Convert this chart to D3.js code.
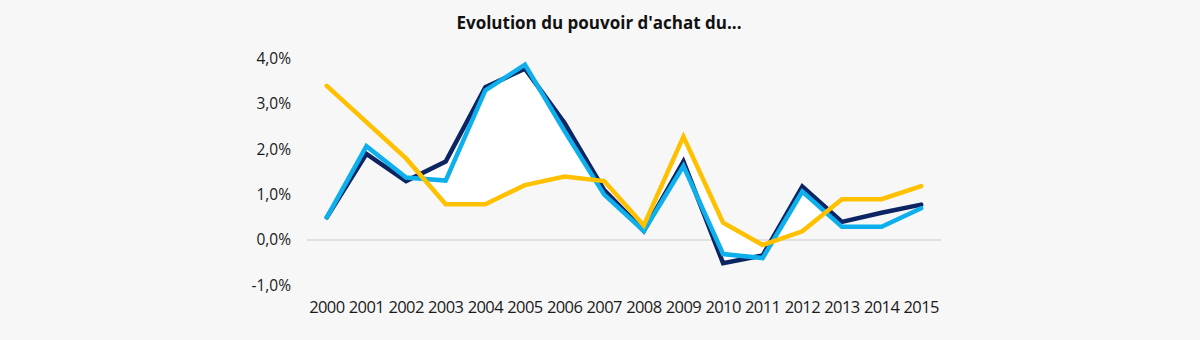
<!DOCTYPE html>
<html>
<head>
<meta charset="utf-8">
<script src="https://cdn.jsdelivr.net/npm/d3@7"></script>
<style>
  html, body { margin: 0; padding: 0; background: #f7f7f7; }
  svg { display: block; }
</style>
</head>
<body>
<svg id="chart" width="1200" height="340"></svg>
<script>
// Years on the horizontal axis
const years = ["2000","2001","2002","2003","2004","2005","2006","2007",
               "2008","2009","2010","2011","2012","2013","2014","2015"];

// Annual change in purchasing power (%)
const seriesNavy   = [0.5, 1.9, 1.3, 1.73, 3.37, 3.78, 2.58, 1.1, 0.2, 1.73, -0.51, -0.34, 1.18, 0.4, 0.6, 0.78];
const seriesBlue   = [0.5, 2.07, 1.38, 1.31, 3.3, 3.87, 2.4, 1.0, 0.2, 1.63, -0.31, -0.4, 1.07, 0.29, 0.29, 0.7];
const seriesYellow = [3.4, 2.6, 1.8, 0.79, 0.79, 1.21, 1.4, 1.3, 0.32, 2.28, 0.38, -0.11, 0.19, 0.9, 0.9, 1.19];

// Value-axis ticks
const yTicks = [-1, 0, 1, 2, 3, 4];

const title = "Evolution du pouvoir d'achat du...";

const svg = d3.select("#chart");
const W = 1200, H = 340;

svg.append("rect").attr("width", W).attr("height", H).attr("fill", "#f7f7f7");

const x = d3.scaleBand().domain(years).range([307, 941]);
const cx = d => x(d) + x.bandwidth() / 2;
const y = d3.scaleLinear().domain([-1, 4]).range([285.3, 58.7]);

// French number format with a plain hyphen for negatives
const frLocale = d3.formatLocale({ decimal: ",", thousands: "\u00a0", grouping: [3], currency: ["", " €"], minus: "-" });
const fmt1 = frLocale.format(".1f");
const fmt = v => fmt1(v) + "%";

// Title
svg.append("text")
  .attr("x", 599).attr("y", 29)
  .attr("text-anchor", "middle")
  .attr("font-family", "'Open Sans', sans-serif")
  .attr("font-weight", "bold")
  .attr("font-size", 17)
  .attr("fill", "#111")
  .text(title);

// Zero baseline
svg.append("line")
  .attr("x1", 307).attr("x2", 941)
  .attr("y1", y(0)).attr("y2", y(0))
  .attr("stroke", "#d9d9d9").attr("stroke-width", 1.5);

// Value axis (labels only)
const yAxis = d3.axisLeft(y).tickValues(yTicks).tickFormat(fmt).tickSize(0).tickPadding(0);
const gy = svg.append("g").attr("transform", "translate(291,0)").call(yAxis);
gy.select(".domain").remove();
gy.selectAll("text")
  .attr("font-family", "'Open Sans', sans-serif")
  .attr("font-size", 15.5)
  .attr("fill", "#1a1a1a");

// Year axis (labels only)
const xAxis = d3.axisBottom(x).tickSize(0).tickPadding(0);
const gx = svg.append("g").attr("transform", "translate(0,301)").call(xAxis);
gx.select(".domain").remove();
gx.selectAll("text")
  .attr("font-family", "'Open Sans', sans-serif")
  .attr("font-size", 16.5)
  .attr("letter-spacing", -0.6)
  .attr("fill", "#1a1a1a");

// Rows of data for the shaded gap
const rows = years.map((yr, i) => ({ yr, n: seriesNavy[i], b: seriesBlue[i], o: seriesYellow[i] }));

// Where the yellow line crosses the light-blue line (first and last crossing)
function crossings(a, b) {
  const out = [];
  for (let i = 0; i < a.length - 1; i++) {
    const d0 = a[i] - b[i], d1 = a[i + 1] - b[i + 1];
    if (d0 * d1 < 0) {
      const t = d0 / (d0 - d1);
      out.push(cx(years[i]) + t * (cx(years[i + 1]) - cx(years[i])));
    }
  }
  return out;
}
const cr = crossings(seriesYellow, seriesBlue);
const clipX0 = cr[0], clipX1 = cr[cr.length - 1];

svg.append("clipPath").attr("id", "gapClip")
  .append("rect")
  .attr("x", clipX0).attr("y", 0)
  .attr("width", clipX1 - clipX0).attr("height", H);

// White band between the three lines
const pairs = [["o", "b"], ["o", "n"], ["n", "b"]];
const gGap = svg.append("g").attr("clip-path", "url(#gapClip)");
pairs.forEach(([k1, k2]) => {
  gGap.append("path")
    .datum(rows)
    .attr("fill", "#ffffff")
    .attr("stroke", "none")
    .attr("d", d3.area().x(d => cx(d.yr)).y0(d => y(d[k1])).y1(d => y(d[k2])));
});

// Lines
const line = d3.line().x((d, i) => cx(years[i])).y(d => y(d));
const drawLine = (vals, color) =>
  svg.append("path")
    .datum(vals)
    .attr("fill", "none")
    .attr("stroke", color)
    .attr("stroke-width", 4.5)
    .attr("stroke-linejoin", "miter")
    .attr("stroke-linecap", "round")
    .attr("d", line);

drawLine(seriesNavy, "#0c2461");
drawLine(seriesBlue, "#0db0ec");
drawLine(seriesYellow, "#ffc000");
</script>
</body>
</html>
